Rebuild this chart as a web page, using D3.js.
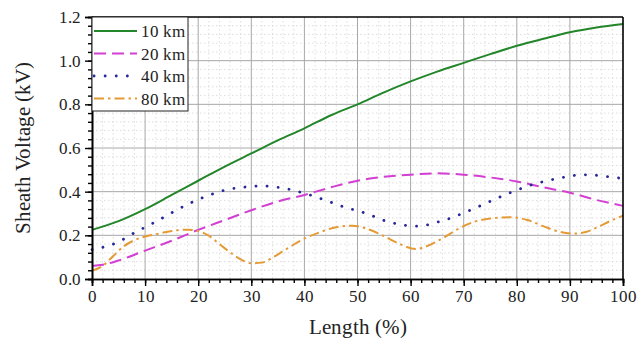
<!DOCTYPE html>
<html>
<head>
<meta charset="utf-8">
<script src="https://cdn.jsdelivr.net/npm/d3@7"></script>
<style>
  @font-face { font-family: 'ChartSerif'; src: local('Liberation Serif'), local('LiberationSerif-Regular'), local('LiberationSerif'); }
</style>
</head>
<body style="margin:0">
<svg id="chart" width="640" height="339"></svg>
<script>
const margin = { top: 17, right: 17, bottom: 60, left: 92 };
const width = 640 - margin.left - margin.right;
const height = 339 - margin.top - margin.bottom;
const serifFont = 'ChartSerif, Liberation Serif, serif'

// series values (x = length %, y = kV)
var km10X = [0, 5, 10, 15, 20, 25, 30, 35, 40, 45, 50, 55, 60, 65, 70, 75, 80, 85, 90, 95, 100]
var km10Y = [0.225, 0.265, 0.32, 0.385, 0.45, 0.515, 0.575, 0.635, 0.69, 0.75, 0.80, 0.855, 0.905, 0.95, 0.99, 1.03, 1.068, 1.10, 1.13, 1.152, 1.168]

var km20X = [0, 2, 5, 10, 15, 20, 25, 30, 35, 40, 45, 50, 55, 60, 65, 70, 75, 80, 85, 90, 95, 100]
var km20Y = [0.06, 0.065, 0.085, 0.13, 0.175, 0.225, 0.27, 0.315, 0.355, 0.385, 0.42, 0.45, 0.468, 0.478, 0.484, 0.478, 0.465, 0.447, 0.42, 0.395, 0.362, 0.335]

var km40X = [0, 2, 5, 8, 10, 12, 15, 18, 20, 23, 25, 28, 30, 32, 35, 38, 40, 42, 44, 46, 48, 50, 52, 55, 58, 61, 63, 65, 68, 70, 72, 75, 78, 80, 83, 85, 88, 90, 92, 94, 96, 100]
var km40Y = [0.135, 0.145, 0.17, 0.212, 0.237, 0.262, 0.303, 0.342, 0.364, 0.392, 0.407, 0.419, 0.424, 0.426, 0.42, 0.406, 0.392, 0.378, 0.36, 0.343, 0.325, 0.313, 0.297, 0.268, 0.25, 0.242, 0.247, 0.26, 0.283, 0.303, 0.323, 0.356, 0.388, 0.407, 0.433, 0.446, 0.462, 0.471, 0.477, 0.477, 0.472, 0.46]

var km80X = [0, 2, 4, 6, 8, 10, 12, 14, 16, 18, 20, 22, 24, 26, 28, 30, 32, 34, 36, 38, 40, 43, 46, 49, 52, 55, 58, 61, 63, 66, 69, 72, 75, 79, 82, 85, 88, 91, 93, 95, 98, 100]
var km80Y = [0.037, 0.06, 0.105, 0.15, 0.178, 0.195, 0.205, 0.215, 0.223, 0.226, 0.22, 0.198, 0.16, 0.122, 0.09, 0.072, 0.075, 0.098, 0.128, 0.158, 0.185, 0.215, 0.237, 0.244, 0.228, 0.196, 0.16, 0.137, 0.15, 0.186, 0.23, 0.262, 0.277, 0.283, 0.27, 0.242, 0.217, 0.208, 0.215, 0.235, 0.27, 0.29]

var seriesNames = ['10 km', '20 km', '40 km', '80 km']
var seriesColors = ['#23862a', '#d23fd2', '#28289a', '#e59a35']
var seriesDash = [null, '12,6', '0.1,11', '10,4,2.5,4']

var xTicks = [0, 10, 20, 30, 40, 50, 60, 70, 80, 90, 100]
var yTicks = [0.0, 0.2, 0.4, 0.6, 0.8, 1.0, 1.2]

var series = [
    { name: seriesNames[0], xs: km10X, ys: km10Y },
    { name: seriesNames[1], xs: km20X, ys: km20Y },
    { name: seriesNames[2], xs: km40X, ys: km40Y },
    { name: seriesNames[3], xs: km80X, ys: km80Y }
]

var svg = d3.select('#chart')
var g = svg.append('g').attr('transform', 'translate(' + margin.left + ',' + margin.top + ')')

var xScale = d3.scaleLinear().domain([0, 100]).range([0, width])
var yScale = d3.scaleLinear().domain([0, 1.2]).range([height, 0])

var xMinor = d3.range(0, 101, 2)
var yMinor = d3.range(0, 1.2001, 0.04)

// minor grid
g.append('g').selectAll('line')
    .data(xMinor.filter(d => d % 10 != 0))
    .join('line')
    .attr('x1', d => xScale(d)).attr('x2', d => xScale(d))
    .attr('y1', 0).attr('y2', height)
    .attr('stroke', '#d6d6d6').attr('stroke-width', 0.8).attr('stroke-dasharray', '1.5,2.5')
g.append('g').selectAll('line')
    .data(yMinor.filter((d, i) => i % 5 != 0))
    .join('line')
    .attr('x1', 0).attr('x2', width)
    .attr('y1', d => yScale(d)).attr('y2', d => yScale(d))
    .attr('stroke', '#d6d6d6').attr('stroke-width', 0.8).attr('stroke-dasharray', '1.5,2.5')

// major grid
g.append('g').selectAll('line')
    .data(xTicks.slice(1, -1))
    .join('line')
    .attr('x1', d => xScale(d)).attr('x2', d => xScale(d))
    .attr('y1', 0).attr('y2', height)
    .attr('stroke', '#a8a8a8').attr('stroke-width', 1)
g.append('g').selectAll('line')
    .data(yTicks.slice(1, -1))
    .join('line')
    .attr('x1', 0).attr('x2', width)
    .attr('y1', d => yScale(d)).attr('y2', d => yScale(d))
    .attr('stroke', '#a8a8a8').attr('stroke-width', 1)

// lines
var line = d3.line()
    .x(d => xScale(d[0]))
    .y(d => yScale(d[1]))
    .curve(d3.curveMonotoneX)

for (let i = 0; i < series.length; i++) {
    let pts = series[i].xs.map((x, j) => [x, series[i].ys[j]])
    g.append('path')
        .datum(pts)
        .attr('d', line)
        .attr('fill', 'none')
        .attr('stroke', seriesColors[i])
        .attr('stroke-width', i == 2 ? 2.8 : 2)
        .attr('stroke-linecap', i == 2 ? 'round' : 'butt')
        .attr('stroke-dasharray', seriesDash[i])
}

// axes
const xAxis = d3.axisBottom(xScale).tickValues(xTicks).tickSize(7).tickPadding(4)
const xAxisMinor = d3.axisBottom(xScale).tickValues(xMinor).tickSize(4).tickFormat('')
const yAxis = d3.axisLeft(yScale).tickValues(yTicks).tickSize(7).tickPadding(4).tickFormat(d3.format('.1f'))
const yAxisMinor = d3.axisLeft(yScale).tickValues(yMinor).tickSize(4).tickFormat('')

g.append('g').attr('transform', 'translate(0,' + height + ')').call(xAxisMinor)
g.append('g').attr('id', 'x-axis').attr('transform', 'translate(0,' + height + ')').call(xAxis)
g.append('g').call(yAxisMinor)
g.append('g').attr('id', 'y-axis').call(yAxis)

svg.selectAll('.domain').attr('stroke', '#000').attr('stroke-width', 1.6)
svg.selectAll('.tick line').attr('stroke', '#000').attr('stroke-width', 1.4)
svg.selectAll('.tick text').attr('fill', '#222').attr('font-size', 17)

// frame top and right
g.append('line').attr('x1', 0).attr('x2', width).attr('y1', 0).attr('y2', 0)
    .attr('stroke', '#000').attr('stroke-width', 1.6)
g.append('line').attr('x1', width).attr('x2', width).attr('y1', 0).attr('y2', height)
    .attr('stroke', '#000').attr('stroke-width', 1.6)

// axis titles
svg.append('text')
    .attr('x', margin.left + width / 2)
    .attr('y', 334)
    .attr('text-anchor', 'middle')
    .attr('fill', '#222')
    .attr('font-size', 21)
    .text('Length (%)')

svg.append('text')
    .attr('transform', 'translate(30,' + (margin.top + height / 2) + ') rotate(-90)')
    .attr('text-anchor', 'middle')
    .attr('fill', '#222')
    .attr('font-size', 21)
    .text('Sheath Voltage (kV)')

// legend
var legend = g.append('g')
legend.append('rect')
    .attr('x', 0).attr('y', 0).attr('width', 96).attr('height', 94)
    .attr('fill', '#fff').attr('stroke', '#222').attr('stroke-width', 1)

for (let i = 0; i < series.length; i++) {
    let ly = 14 + i * 22.5
    legend.append('line')
        .attr('x1', 2).attr('x2', 45).attr('y1', ly).attr('y2', ly)
        .attr('stroke', seriesColors[i])
        .attr('stroke-width', i == 2 ? 2.8 : 2)
        .attr('stroke-linecap', i == 2 ? 'round' : 'butt')
        .attr('stroke-dasharray', seriesDash[i])
    legend.append('text')
        .attr('x', 49).attr('y', ly + 6)
        .attr('fill', '#222')
        .attr('font-size', 17)
        .text(series[i].name)
}

// serif font on every text, axis groups included
svg.selectAll('g').attr('font-family', serifFont)
svg.selectAll('text').attr('font-family', serifFont)
</script>
</body>
</html>
